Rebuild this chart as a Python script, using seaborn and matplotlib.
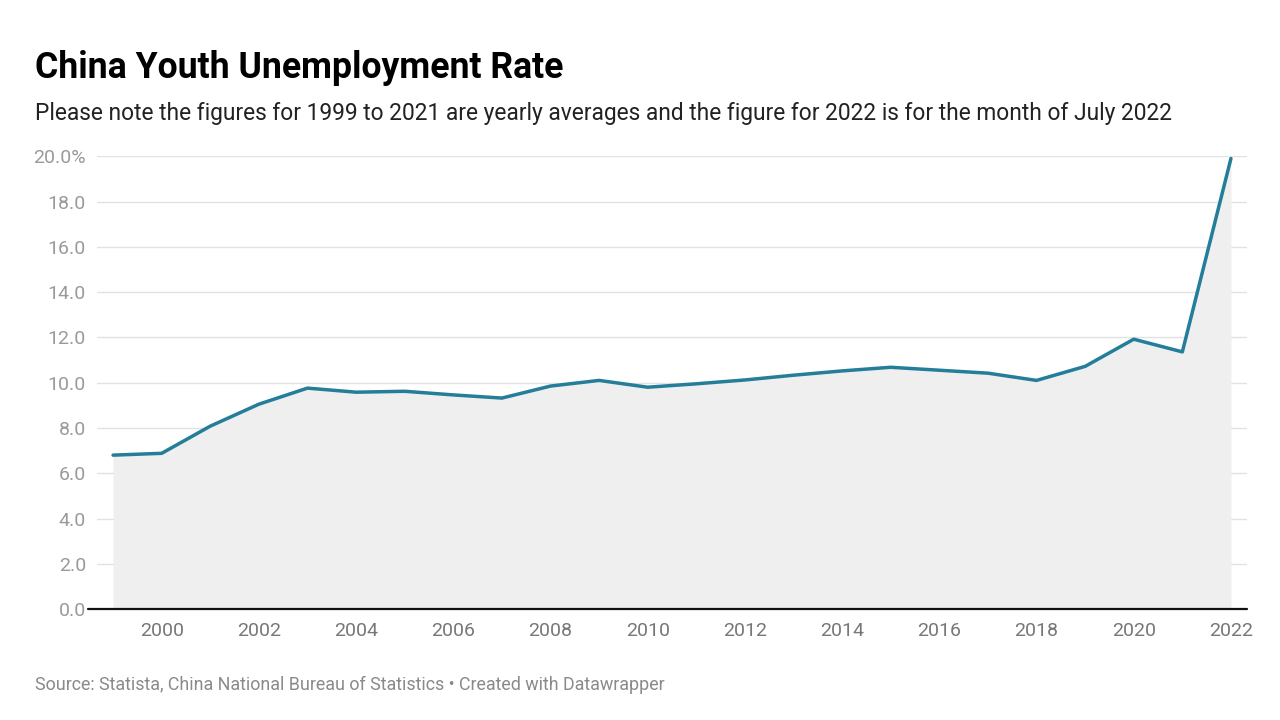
import matplotlib.pyplot as plt
import seaborn as sns
import pandas as pd

# Data
years = list(range(1999, 2023))
rates = [6.8, 6.88, 8.08, 9.05, 9.76, 9.58, 9.62, 9.46, 9.32, 9.85, 10.1, 9.8,
         9.95, 10.12, 10.33, 10.52, 10.68, 10.55, 10.42, 10.1, 10.72, 11.92, 11.36, 19.9]
y_ticks = [0, 2, 4, 6, 8, 10, 12, 14, 16, 18, 20]
x_ticks = list(range(2000, 2023, 2))

df = pd.DataFrame({"year": years, "rate": rates})

sns.set_theme(style="white")
plt.rcParams["font.family"] = ["Roboto", "DejaVu Sans"]

fig = plt.figure(figsize=(12.8, 7.2), dpi=100)
ax = fig.add_axes([0.0758, 0.154, 0.8984, 0.629])

line_color = "#247d99"
ax.fill_between(df["year"], df["rate"], 0, color="#efefef", linewidth=0, zorder=1)
sns.lineplot(data=df, x="year", y="rate", ax=ax, color=line_color, linewidth=2.5, zorder=3)

ax.set_xlim(1998.67, 2022.33)
ax.set_ylim(0, 20)
ax.set_yticks(y_ticks)
ax.set_yticklabels([f"{v:.1f}%" if v == 20 else f"{v:.1f}" for v in y_ticks])
ax.set_xticks(x_ticks)
ax.set_xticklabels([str(x) for x in x_ticks])

for v in y_ticks[1:]:
    ax.axhline(v, color="#e2e2e2", linewidth=1, zorder=0)
ax.plot([-0.008, 1], [0, 0], transform=ax.transAxes, color="#111111",
        linewidth=1.6, clip_on=False, zorder=4)

for s in ax.spines.values():
    s.set_visible(False)
ax.tick_params(axis="y", length=0, pad=8, labelsize=14, labelcolor="#9a9a9a")
ax.tick_params(axis="x", length=0, pad=9, labelsize=14, labelcolor="#777777")
ax.set_xlabel("")
ax.set_ylabel("")

fig.text(0.027, 0.892, "China Youth Unemployment Rate", fontsize=25.7, fontweight="bold",
         color="#000000", va="baseline")
fig.text(0.027, 0.833, "Please note the figures for 1999 to 2021 are yearly averages and "
         "the figure for 2022 is for the month of July 2022", fontsize=16.4,
         color="#222222", va="baseline")
fig.text(0.027, 0.042, "Source: Statista, China National Bureau of Statistics \u2022 "
         "Created with Datawrapper", fontsize=12.9, color="#8a8a8a", va="baseline")

fig.savefig("out.png", dpi=100, facecolor="white")
